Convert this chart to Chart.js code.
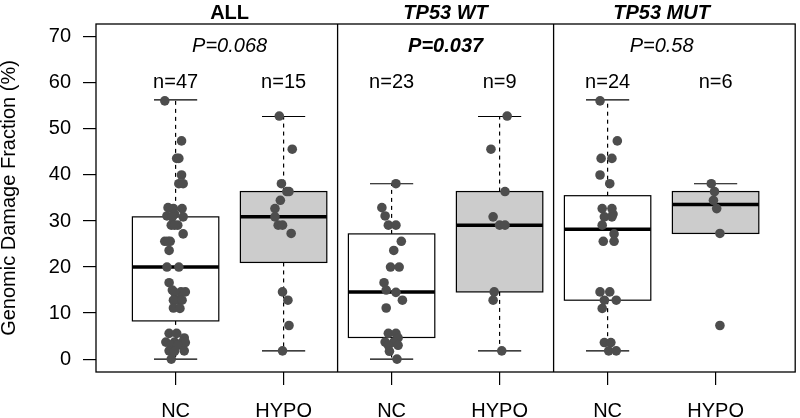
<!DOCTYPE html>
<html>
<head>
<meta charset="utf-8">
<script src="https://cdn.jsdelivr.net/npm/chart.js@4"></script>
<style>
    html, body { margin: 0; padding: 0; background: #fff; }
    #wrap { width: 800px; height: 418px; }
</style>
</head>
<body>
<div id="wrap"><canvas id="damage_chart"></canvas></div>
<script>
// groups sit at x = 1..6 (NC/HYPO for ALL, TP53 WT, TP53 MUT)
const xLabels = ['NC', 'HYPO', 'NC', 'HYPO', 'NC', 'HYPO'];
const yTicks = [0, 10, 20, 30, 40, 50, 60, 70];
const panelTitles = ['ALL', 'TP53 WT', 'TP53 MUT'];
const pLabels = ['P=0.068', 'P=0.037', 'P=0.58'];
const pBold = [false, true, false];
const nLabels = ['n=47', 'n=15', 'n=23', 'n=9', 'n=24', 'n=6'];

// box stats
const boxLow = [0.0, 1.8, 0.0, 1.8, 1.8, 27.3];
const boxQ1 = [8.3, 21.0, 4.7, 14.6, 12.8, 27.3];
const boxMed = [20.0, 30.9, 14.6, 29.1, 28.2, 33.6];
const boxQ3 = [30.9, 36.4, 27.2, 36.4, 35.5, 36.4];
const boxHigh = [56.3, 52.7, 38.1, 52.7, 56.3, 38.1];

// points: values and their jitter (in group units)
const allNcVals = [56.1, 47.4, 43.6, 43.6, 40.0, 38.1, 38.1, 32.9, 32.7, 32.7, 31.5, 31.1, 30.9, 30.9, 29.1, 29.1,
    29.1, 27.2, 25.6, 25.6, 25.6, 23.6, 20.0, 20.0, 16.6, 15.0, 14.6, 14.6, 14.5, 12.8, 12.8, 12.8, 11.1, 11.0,
    5.6, 5.6, 4.6, 3.7, 3.7, 3.6, 3.6, 3.0, 3.0, 1.8, 1.8, 1.7, 0.0];
const allNcJit = [-0.10, 0.055, 0.01, 0.03, 0.055, 0.03, 0.07, -0.07, -0.02, 0.06, -0.01, -0.08, 0.07, -0.03, -0.04, 0.02,
    -0.01, 0.07, -0.10, -0.05, -0.07, -0.06, -0.08, 0.03, -0.06, -0.03, 0.05, 0.09, -0.01, 0.02, -0.02, 0.06, -0.02, 0.04,
    -0.06, 0.01, 0.08, -0.09, -0.01, 0.06, 0.09, -0.04, 0.02, 0.08, -0.06, -0.01, -0.04];
const allHypoVals = [52.8, 45.6, 38.1, 36.4, 36.4, 34.5, 32.7, 30.9, 29.1, 29.1, 27.3, 14.6, 12.8, 7.3, 1.8];
const allHypoJit = [-0.04, 0.08, -0.02, 0.03, 0.05, -0.03, -0.08, -0.08, -0.05, -0.01, 0.07, -0.01, 0.04, 0.05, -0.01];
const wtNcVals = [38.1, 32.9, 31.1, 29.1, 29.1, 25.6, 23.6, 20.0, 20.0, 16.6, 15.0, 14.5, 12.8, 11.1, 5.6, 5.6,
    4.6, 3.7, 3.7, 3.0, 3.0, 1.7, 0.0];
const wtNcJit = [0.04, -0.09, -0.06, -0.03, 0.04, 0.09, 0.02, -0.01, 0.07, -0.07, -0.05, 0.04, 0.10, -0.05, -0.03, 0.04,
    0.06, -0.06, 0.02, -0.03, 0.06, -0.02, 0.05];
const wtHypoVals = [52.8, 45.6, 36.4, 30.9, 29.1, 29.1, 14.6, 12.8, 1.8];
const wtHypoJit = [0.07, -0.08, 0.05, -0.06, 0.0, 0.05, -0.05, -0.06, 0.02];
const mutNcVals = [56.1, 47.4, 43.6, 43.6, 40.0, 38.1, 32.7, 32.7, 31.5, 30.9, 30.9, 29.1, 27.2, 25.6, 25.6, 14.6,
    14.6, 12.8, 12.8, 11.0, 3.6, 3.6, 1.8, 1.8];
const mutNcJit = [-0.07, 0.09, -0.06, 0.04, -0.07, 0.02, -0.05, 0.04, 0.05, -0.03, 0.04, -0.05, 0.06, -0.04, 0.06, -0.07,
    0.02, -0.03, 0.08, -0.05, -0.03, 0.03, 0.01, 0.08];
const mutHypoVals = [38.1, 36.4, 34.5, 32.7, 27.3, 7.3];
const mutHypoJit = [-0.04, -0.01, -0.02, 0.01, 0.04, 0.04];

const groupVals = [allNcVals, allHypoVals, wtNcVals, wtHypoVals, mutNcVals, mutHypoVals];
const groupJit = [allNcJit, allHypoJit, wtNcJit, wtHypoJit, mutNcJit, mutHypoJit];

const FONT = '"Liberation Sans", Arial, Helvetica, sans-serif';
const boxHalf = 0.4;
const capHalf = 0.2;

const points = [];
groupVals.forEach((vals, g) => {
    vals.forEach((v, i) => points.push({ x: g + 1 + groupJit[g][i], y: v }));
});

function seg(ctx, x1, y1, x2, y2) {
    ctx.beginPath();
    ctx.moveTo(x1, y1);
    ctx.lineTo(x2, y2);
    ctx.stroke();
}

const boxPlugin = {
    id: 'boxes',
    beforeDatasetsDraw(chart) {
        const ctx = chart.ctx;
        const x = chart.scales.x, y = chart.scales.y;
        const area = chart.chartArea;
        ctx.save();
        ctx.strokeStyle = '#000';
        for (let i = 0; i < xLabels.length; i++) {
            const pos = i + 1;
            const cx = x.getPixelForValue(pos);
            const l = x.getPixelForValue(pos - boxHalf), r = x.getPixelForValue(pos + boxHalf);
            const cl = x.getPixelForValue(pos - capHalf), cr = x.getPixelForValue(pos + capHalf);
            const q1 = y.getPixelForValue(boxQ1[i]), q3 = y.getPixelForValue(boxQ3[i]);
            const lo = y.getPixelForValue(boxLow[i]), hi = y.getPixelForValue(boxHigh[i]);
            const md = y.getPixelForValue(boxMed[i]);

            ctx.lineWidth = 1.2;
            ctx.setLineDash([4, 4]);
            seg(ctx, cx, q3, cx, hi);
            seg(ctx, cx, q1, cx, lo);
            ctx.setLineDash([]);
            seg(ctx, cl, hi, cr, hi);
            seg(ctx, cl, lo, cr, lo);

            ctx.fillStyle = i % 2 === 0 ? '#ffffff' : '#cccccc';
            ctx.fillRect(l, q3, r - l, q1 - q3);
            ctx.strokeRect(l, q3, r - l, q1 - q3);

            ctx.lineWidth = 3.5;
            seg(ctx, l, md, r, md);
        }
        // panel frame
        ctx.lineWidth = 1.3;
        ctx.strokeRect(area.left, area.top, area.right - area.left, area.bottom - area.top);
        [2.5, 4.5].forEach(v => {
            const px = x.getPixelForValue(v);
            seg(ctx, px, area.top, px, area.bottom);
        });
        ctx.restore();
    },
    afterDatasetsDraw(chart) {
        const ctx = chart.ctx;
        const x = chart.scales.x, y = chart.scales.y;
        ctx.save();
        ctx.fillStyle = '#000';
        ctx.textAlign = 'center';
        ctx.textBaseline = 'middle';
        ctx.font = '20px ' + FONT;
        nLabels.forEach((t, i) => ctx.fillText(t, x.getPixelForValue(i + 1), y.getPixelForValue(60)));
        pLabels.forEach((t, i) => {
            ctx.font = (pBold[i] ? 'italic bold 20px ' : 'italic 20px ') + FONT;
            ctx.fillText(t, x.getPixelForValue(2 * i + 1.5), y.getPixelForValue(68));
        });
        ctx.textBaseline = 'alphabetic';
        panelTitles.forEach((t, i) => {
            ctx.font = (i === 0 ? 'bold 20px ' : 'italic bold 20px ') + FONT;
            ctx.fillText(t, x.getPixelForValue(2 * i + 1.5), chart.chartArea.top - 5);
        });
        ctx.restore();
    }
};

const ctx = document.getElementById('damage_chart').getContext('2d');
window.myChart = new Chart(ctx, {
    type: 'scatter',
    data: {
        datasets: [{
            data: points,
            pointRadius: 4.8,
            pointHoverRadius: 4.8,
            pointBackgroundColor: '#4d4d4d',
            pointBorderColor: '#4d4d4d',
            pointBorderWidth: 0,
        }]
    },
    options: {
        responsive: true,
        maintainAspectRatio: false,
        animation: false,
        layout: { padding: { top: 20, right: 1, left: 0, bottom: 0 } },
        plugins: {
            legend: { display: false },
            tooltip: { enabled: false }
        },
        scales: {
            x: {
                type: 'linear',
                min: 0.263,
                max: 6.737,
                afterBuildTicks: s => { s.ticks = xLabels.map((l, i) => ({ value: i + 1 })); },
                afterFit: s => { s.height = 46; },
                ticks: {
                    callback: (v, i) => xLabels[i],
                    color: '#000',
                    font: { family: FONT, size: 20 },
                    padding: 14,
                    autoSkip: false,
                    maxRotation: 0,
                    minRotation: 0
                },
                grid: { drawOnChartArea: false, tickLength: 13, color: '#000', lineWidth: 1.2 },
                border: { display: false }
            },
            y: {
                min: -2.8,
                max: 72.8,
                afterBuildTicks: s => { s.ticks = yTicks.map(v => ({ value: v })); },
                afterFit: s => { s.width = 96; },
                ticks: {
                    color: '#000',
                    font: { family: FONT, size: 20 },
                    padding: 12
                },
                grid: { drawOnChartArea: false, tickLength: 13, color: '#000', lineWidth: 1.2 },
                border: { display: false },
                title: {
                    display: true,
                    text: 'Genomic Damage Fraction (%)',
                    color: '#000',
                    font: { family: FONT, size: 20 },
                    padding: { top: -3, bottom: 0 }
                }
            }
        }
    },
    plugins: [boxPlugin]
});
</script>
</body>
</html>
